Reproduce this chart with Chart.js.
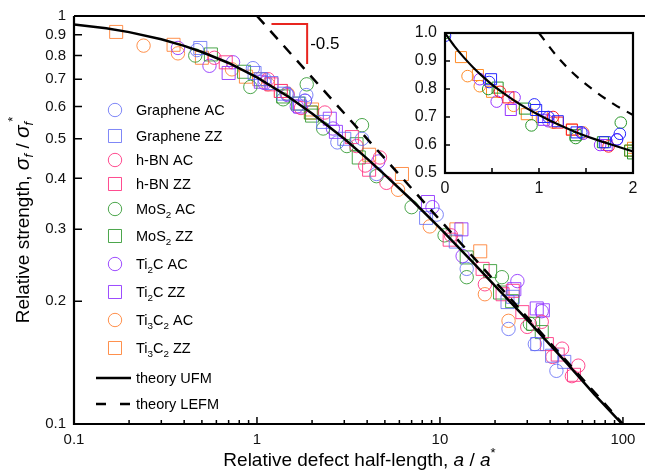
<!DOCTYPE html>
<html>
<head>
<meta charset="utf-8">
<script src="https://cdn.jsdelivr.net/npm/chart.js@4.4.1/dist/chart.umd.min.js"></script>
<style>
  body { margin: 0; background: #fff; }
  #wrap { position: relative; width: 645px; height: 470px; }
  #main { position: absolute; left: 0; top: 0; }
  #inset { position: absolute; left: 395px; top: 20px; }
</style>
</head>
<body>
<div id="wrap">
  <canvas id="main" width="645" height="470"></canvas>
  <canvas id="inset" width="250" height="190"></canvas>
</div>
<script>
// ---- data ----
const grapheneAC_x = [0, 0.47, 0.95, 1.1, 1.45, 1.83, 1.86, 2.75, 3.75, 4.5, 9.6, 14, 23.7, 33, 43.3];
const grapheneAC_y = [0.99, 0.825, 0.745, 0.70, 0.645, 0.62, 0.64, 0.49, 0.50, 0.41, 0.326, 0.24, 0.171, 0.157, 0.135];
const grapheneZZ_x = [0.49, 0.97, 1.05, 1.2, 1.4, 1.7, 2.3, 3.0, 8.4, 12.2, 23.4, 25, 34, 41, 47.8];
const grapheneZZ_y = [0.835, 0.725, 0.70, 0.685, 0.645, 0.61, 0.55, 0.50, 0.32, 0.28, 0.199, 0.205, 0.157, 0.147, 0.142];
const hbnAC_x = [0.585, 1.15, 1.74, 2.35, 3.5, 3.9, 4.7, 5.1, 11.5, 17.6, 30, 36, 41.2, 46.5, 52.6, 57];
const hbnAC_y = [0.79, 0.70, 0.595, 0.58, 0.48, 0.43, 0.45, 0.39, 0.29, 0.22, 0.173, 0.178, 0.146, 0.153, 0.131, 0.139];
const hbnZZ_x = [0.675, 1.2, 1.35, 3.3, 4.1, 11.3, 17.1, 22, 25, 28.2, 38.4, 44, 54];
const hbnZZ_y = [0.77, 0.68, 0.655, 0.505, 0.42, 0.283, 0.24, 0.208, 0.212, 0.188, 0.157, 0.148, 0.132];
const mos2AC_x = [0, 0.46, 0.92, 1.39, 1.87, 2.3, 3.1, 3.75, 4.5, 7.0, 10.6, 14, 21.8, 31];
const mos2AC_y = [1.0, 0.80, 0.67, 0.625, 0.68, 0.53, 0.48, 0.54, 0.405, 0.34, 0.29, 0.229, 0.229, 0.176];
const mos2ZZ_x = [0.56, 0.85, 1.39, 1.68, 1.97, 2.0, 3.5, 3.6, 14, 18.8, 21.3, 24.8, 32.3, 36];
const mos2ZZ_y = [0.805, 0.73, 0.635, 0.61, 0.58, 0.57, 0.485, 0.45, 0.256, 0.237, 0.21, 0.20, 0.176, 0.168];
const ti2cAC_x = [0.37, 0.55, 0.74, 1.1, 1.47, 1.65, 1.83, 2.6, 4.6, 9.1, 13.3, 26.5, 36];
const ti2cAC_y = [0.835, 0.755, 0.77, 0.685, 0.64, 0.60, 0.62, 0.53, 0.44, 0.34, 0.258, 0.224, 0.189];
const ti2cZZ_x = [0.70, 1.05, 1.72, 2.5, 2.7, 8.6, 13.1, 25.5, 33.8, 36.5];
const ti2cZZ_y = [0.725, 0.69, 0.60, 0.56, 0.52, 0.35, 0.30, 0.214, 0.192, 0.19];
const ti3c2AC_x = [0.24, 0.37, 0.73, 1.15, 1.47, 5.9, 8.8, 17.6, 23.7];
const ti3c2AC_y = [0.846, 0.81, 0.74, 0.68, 0.645, 0.375, 0.305, 0.208, 0.179];
const ti3c2ZZ_x = [0.17, 0.35, 0.50, 0.87, 1.03, 1.35, 1.97, 2.0, 4.1, 6.2, 12.3, 16.6];
const ti3c2ZZ_y = [0.914, 0.85, 0.79, 0.71, 0.70, 0.655, 0.58, 0.59, 0.457, 0.41, 0.30, 0.265];

// theory curves
const ufmX = [0.1, 0.15, 0.2, 0.3, 0.4, 0.5, 0.7, 1, 1.5, 2, 3, 4, 5, 7, 10, 15, 20, 30, 50, 70, 100];
const ufmY = [0.953, 0.933, 0.913, 0.877, 0.845, 0.816, 0.767, 0.707, 0.632, 0.577, 0.5, 0.447, 0.408, 0.354, 0.302, 0.25, 0.218, 0.18, 0.14, 0.118, 0.0995];
const lefmX = [1, 100];
const lefmY = [1, 0.1];
const insetUfmX = [0, 0.1, 0.2, 0.3, 0.4, 0.5, 0.6, 0.8, 1.0, 1.2, 1.4, 1.6, 1.8, 2.0];
const insetUfmY = [1, 0.953, 0.913, 0.877, 0.845, 0.816, 0.791, 0.745, 0.707, 0.674, 0.645, 0.62, 0.598, 0.577];
const insetLefmX = [1, 1.2, 1.4, 1.6, 1.8, 2.0];
const insetLefmY = [1, 0.913, 0.845, 0.791, 0.745, 0.707];
const slopeX = [1.2, 1.88, 1.88];
const slopeY = [0.956, 0.956, 0.763];
const slopeText = '-0.5';

// ticks
const xMajorTicks = [0.1, 1, 10, 100];
const xMajorLabels = ['0.1', '1', '10', '100'];
const xMinorTicks = [0.2, 0.3, 0.4, 0.5, 0.6, 0.7, 0.8, 0.9, 2, 3, 4, 5, 6, 7, 8, 9, 20, 30, 40, 50, 60, 70, 80, 90];
const yTicks = [0.1, 0.2, 0.3, 0.4, 0.5, 0.6, 0.7, 0.8, 0.9, 1];
const yTickLabels = ['0.1', '0.2', '0.3', '0.4', '0.5', '0.6', '0.7', '0.8', '0.9', '1'];
const insetXTicks = [0, 1, 2];
const insetXMinor = [0.5, 1.5];
const insetYTicks = [0.5, 0.6, 0.7, 0.8, 0.9, 1.0];

const seriesNames = ['Graphene AC', 'Graphene ZZ', 'h-BN AC', 'h-BN ZZ', 'MoS{2} AC', 'MoS{2} ZZ',
  'Ti{2}C AC', 'Ti{2}C ZZ', 'Ti{3}C{2} AC', 'Ti{3}C{2} ZZ'];
const seriesX = [grapheneAC_x, grapheneZZ_x, hbnAC_x, hbnZZ_x, mos2AC_x, mos2ZZ_x, ti2cAC_x, ti2cZZ_x, ti3c2AC_x, ti3c2ZZ_x];
const seriesY = [grapheneAC_y, grapheneZZ_y, hbnAC_y, hbnZZ_y, mos2AC_y, mos2ZZ_y, ti2cAC_y, ti2cZZ_y, ti3c2AC_y, ti3c2ZZ_y];
const mainColors = ['rgba(95,105,245,0.8)', 'rgba(255,45,125,0.85)', 'rgba(45,150,45,0.85)', 'rgba(140,45,255,0.85)', 'rgba(255,125,45,0.85)'];
const insetColors = ['rgb(40,40,255)', 'rgb(255,30,40)', 'rgb(40,150,40)', 'rgb(150,50,255)', 'rgb(255,140,40)'];

const FONT = "'Liberation Sans', Arial, sans-serif";

function pts(xs, ys, keep) {
  return xs.map((x, i) => ({ x: x, y: ys[i] })).filter(p => keep(p.x));
}

function shapeOf(i) { return i % 2 === 0 ? 'circle' : 'rect'; }

function drawParts(ctx, x, y, parts, center) {
  let w = 0;
  parts.forEach(p => { ctx.font = p.font; w += ctx.measureText(p.t).width; });
  let cx = center ? x - w / 2 : x;
  parts.forEach(p => {
    ctx.font = p.font;
    ctx.fillText(p.t, cx, y + (p.dy || 0));
    cx += ctx.measureText(p.t).width;
  });
}

function richParts(label, size) {
  const parts = [];
  label.split(/(\{[^}]*\})/).forEach(seg => {
    if (!seg) return;
    if (seg[0] === '{') parts.push({ t: seg.slice(1, -1), font: (size * 0.68) + 'px ' + FONT, dy: 4 });
    else parts.push({ t: seg, font: size + 'px ' + FONT });
  });
  return parts;
}

function drawMarker(ctx, shape, x, y, r, color) {
  ctx.strokeStyle = color;
  ctx.lineWidth = 1;
  ctx.beginPath();
  if (shape === 'circle') ctx.arc(x, y, r, 0, Math.PI * 2);
  else { const s = r * Math.SQRT1_2; ctx.rect(x - s, y - s, 2 * s, 2 * s); }
  ctx.stroke();
}

// ---- main chart ----
const mainDatasets = seriesNames.map((name, i) => ({
  label: name,
  data: pts(seriesX[i], seriesY[i], x => x > 0),
  pointStyle: shapeOf(i),
  pointRadius: shapeOf(i) === 'circle' ? 6.7 : 9.2,
  pointBorderWidth: 1,
  borderColor: mainColors[Math.floor(i / 2)],
  backgroundColor: 'transparent',
  showLine: false,
  order: 1
}));
mainDatasets.push({
  label: 'theory UFM', data: pts(ufmX, ufmY, x => true), showLine: true,
  borderColor: '#000', borderWidth: 2.5, pointRadius: 0, order: 0
});
mainDatasets.push({
  label: 'theory LEFM', data: pts(lefmX, lefmY, x => true), showLine: true,
  borderColor: '#000', borderWidth: 2.5, borderDash: [11, 9], pointRadius: 0, order: 0
});
mainDatasets.push({
  label: 'slope', data: pts(slopeX, slopeY, x => true), showLine: true,
  borderColor: '#e8251f', borderWidth: 2, pointRadius: 0, order: 0
});

const mainDecor = {
  id: 'mainDecor',
  afterDraw(chart) {
    const ctx = chart.ctx;
    const xs = chart.scales.x, ys = chart.scales.y;
    const a = chart.chartArea;
    ctx.save();
    ctx.strokeStyle = '#000';
    ctx.lineWidth = 2.2;
    ctx.beginPath();
    ctx.moveTo(a.left, a.top); ctx.lineTo(a.right, a.top);
    ctx.moveTo(a.left, a.top); ctx.lineTo(a.left, a.bottom); ctx.lineTo(a.right, a.bottom);
    ctx.stroke();
    ctx.lineWidth = 1.5;
    ctx.beginPath();
    yTicks.forEach(v => { const py = ys.getPixelForValue(v); ctx.moveTo(a.left, py); ctx.lineTo(a.left + 8, py); });
    xMajorTicks.forEach(v => { const px = xs.getPixelForValue(v); ctx.moveTo(px, a.bottom); ctx.lineTo(px, a.bottom - 7); });
    xMinorTicks.forEach(v => { const px = xs.getPixelForValue(v); ctx.moveTo(px, a.bottom); ctx.lineTo(px, a.bottom - 4); });
    ctx.stroke();

    // slope label
    ctx.fillStyle = '#000';
    ctx.font = '17px ' + FONT;
    ctx.textBaseline = 'middle';
    ctx.fillText(slopeText, xs.getPixelForValue(slopeX[1]) + 3, ys.getPixelForValue(0.85));

    // legend
    ctx.textBaseline = 'alphabetic';
    const rows = [110, 136, 160, 184, 209, 236, 264, 292, 320, 348];
    seriesNames.forEach((name, i) => {
      drawMarker(ctx, shapeOf(i), 115, rows[i], shapeOf(i) === 'circle' ? 6.7 : 9.2, mainColors[Math.floor(i / 2)]);
      ctx.fillStyle = '#000';
      drawParts(ctx, 136, rows[i] + 5, richParts(name, 14.5), false);
    });
    ctx.strokeStyle = '#000';
    ctx.lineWidth = 2.5;
    ctx.beginPath(); ctx.moveTo(96, 378); ctx.lineTo(131, 378); ctx.stroke();
    ctx.setLineDash([10, 14]);
    ctx.beginPath(); ctx.moveTo(96, 404); ctx.lineTo(131, 404); ctx.stroke();
    ctx.setLineDash([]);
    ctx.font = '14.5px ' + FONT;
    ctx.fillText('theory UFM', 136, 383);
    ctx.fillText('theory LEFM', 136, 409);

    // axis titles
    const big = '19px ' + FONT, sym = 'italic 21px ' + FONT, sub = 'italic 13px ' + FONT, sup = '13px ' + FONT;
    drawParts(ctx, (a.left + a.right) / 2, 466, [
      { t: 'Relative defect half-length, ', font: big },
      { t: 'a', font: 'italic 19px ' + FONT },
      { t: ' / ', font: big },
      { t: 'a', font: 'italic 19px ' + FONT },
      { t: '*', font: sup, dy: -9 }
    ], true);
    ctx.translate(29, (a.top + a.bottom) / 2);
    ctx.rotate(-Math.PI / 2);
    drawParts(ctx, 0, 0, [
      { t: 'Relative strength, ', font: big },
      { t: 'σ', font: sym },
      { t: 'f', font: sub, dy: 4 },
      { t: ' / ', font: big },
      { t: 'σ', font: sym },
      { t: 'f', font: sub, dy: 4 },
      { t: '*', font: sup, dy: -12 }
    ], true);
    ctx.restore();
  }
};

new Chart(document.getElementById('main'), {
  type: 'scatter',
  data: { datasets: mainDatasets },
  options: {
    responsive: false,
    animation: false,
    layout: { autoPadding: false, padding: { top: 16, right: 0, left: 0, bottom: 0 } },
    plugins: { legend: { display: false }, tooltip: { enabled: false } },
    scales: {
      x: {
        type: 'logarithmic', min: 0.1, max: 132,
        grid: { display: false, drawTicks: false }, border: { display: false },
        afterBuildTicks: s => { s.ticks = xMajorTicks.concat(xMinorTicks).sort((p, q) => p - q).map(v => ({ value: v })); },
        afterFit: s => { s.height = 46; s.paddingLeft = 0; s.paddingRight = 0; },
        ticks: {
          autoSkip: false, maxRotation: 0, padding: 7, color: '#111',
          font: { family: FONT, size: 15 },
          callback: v => { const k = xMajorTicks.indexOf(v); return k >= 0 ? xMajorLabels[k] : ''; }
        }
      },
      y: {
        type: 'logarithmic', min: 0.1, max: 1,
        grid: { display: false, drawTicks: false }, border: { display: false },
        afterBuildTicks: s => { s.ticks = yTicks.map(v => ({ value: v })); },
        afterFit: s => { s.width = 74; s.paddingTop = 0; s.paddingBottom = 0; },
        ticks: {
          autoSkip: false, padding: 8, color: '#111',
          font: { family: FONT, size: 15 },
          callback: v => { const k = yTicks.indexOf(v); return k >= 0 ? yTickLabels[k] : ''; }
        }
      }
    }
  },
  plugins: [mainDecor]
});

// ---- inset chart ----
const insetDatasets = seriesNames.map((name, i) => ({
  label: name,
  data: pts(seriesX[i], seriesY[i], x => x <= 2),
  pointStyle: shapeOf(i),
  pointRadius: shapeOf(i) === 'circle' ? 5.8 : 7.8,
  pointBorderWidth: 1,
  borderColor: insetColors[Math.floor(i / 2)],
  backgroundColor: 'transparent',
  showLine: false,
  order: 1
}));
insetDatasets.push({
  label: 'theory UFM', data: pts(insetUfmX, insetUfmY, x => true), showLine: true,
  cubicInterpolationMode: 'monotone', borderColor: '#000', borderWidth: 2.2, pointRadius: 0, order: 0
});
insetDatasets.push({
  label: 'theory LEFM', data: pts(insetLefmX, insetLefmY, x => true), showLine: true,
  cubicInterpolationMode: 'monotone', borderColor: '#000', borderWidth: 2.2, borderDash: [9, 8], pointRadius: 0, order: 0
});

const insetDecor = {
  id: 'insetDecor',
  afterDraw(chart) {
    const ctx = chart.ctx;
    const xs = chart.scales.x, ys = chart.scales.y;
    const a = chart.chartArea;
    ctx.save();
    ctx.strokeStyle = '#000';
    ctx.lineWidth = 2.2;
    ctx.strokeRect(a.left, a.top, a.right - a.left, a.bottom - a.top);
    ctx.lineWidth = 1.5;
    ctx.beginPath();
    insetYTicks.forEach(v => { const py = ys.getPixelForValue(v); ctx.moveTo(a.left, py); ctx.lineTo(a.left + 5, py); });
    insetXTicks.concat(insetXMinor).forEach(v => { const px = xs.getPixelForValue(v); ctx.moveTo(px, a.bottom); ctx.lineTo(px, a.bottom - 5); });
    ctx.stroke();
    ctx.restore();
  }
};

new Chart(document.getElementById('inset'), {
  type: 'scatter',
  data: { datasets: insetDatasets },
  options: {
    responsive: false,
    animation: false,
    layout: { autoPadding: false, padding: { top: 13, right: 12, left: 0, bottom: 0 } },
    plugins: { legend: { display: false }, tooltip: { enabled: false } },
    scales: {
      x: {
        type: 'linear', min: 0, max: 2,
        grid: { display: false, drawTicks: false }, border: { display: false },
        afterBuildTicks: s => { s.ticks = insetXTicks.map(v => ({ value: v })); },
        afterFit: s => { s.height = 37; s.paddingLeft = 0; s.paddingRight = 0; },
        ticks: { autoSkip: false, maxRotation: 0, padding: 6, color: '#111', font: { family: FONT, size: 16 }, callback: v => String(v) }
      },
      y: {
        type: 'linear', min: 0.5, max: 1.0,
        grid: { display: false, drawTicks: false }, border: { display: false },
        afterBuildTicks: s => { s.ticks = insetYTicks.map(v => ({ value: v })); },
        afterFit: s => { s.width = 50; s.paddingTop = 0; s.paddingBottom = 0; },
        ticks: { autoSkip: false, padding: 8, color: '#111', font: { family: FONT, size: 16 }, callback: v => v.toFixed(1) }
      }
    }
  },
  plugins: [insetDecor]
});
</script>
</body>
</html>
